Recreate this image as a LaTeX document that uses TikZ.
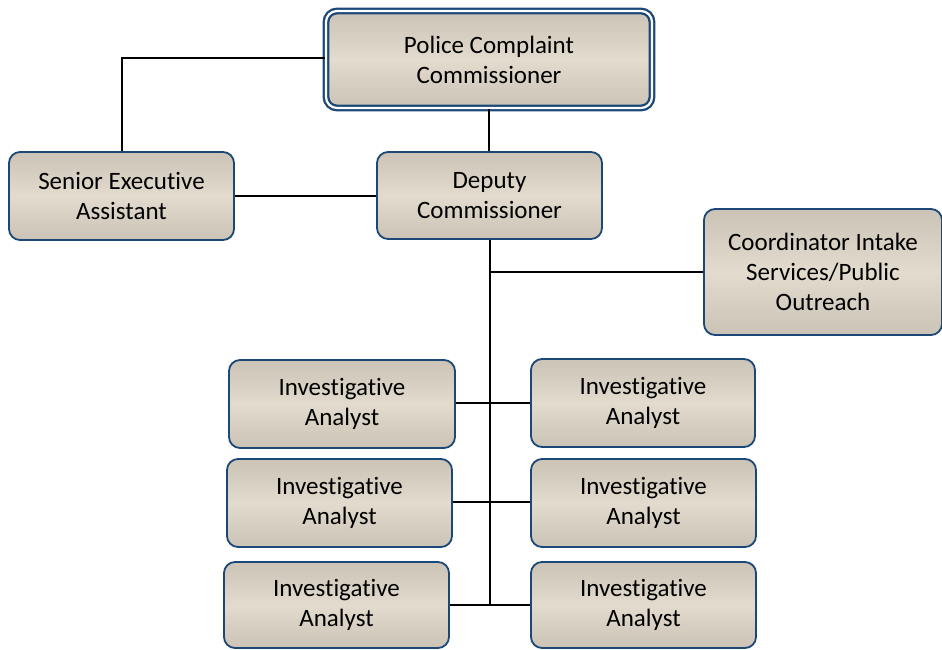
\documentclass[tikz,border=0pt]{standalone}
\usepackage{fontspec}
\setmainfont{Carlito}[RawFeature=-liga]
\definecolor{bordblue}{HTML}{1B4877}
\definecolor{tanA}{HTML}{CBC3B5}
\definecolor{tanB}{HTML}{E2DBCE}
\begin{document}
\begin{tikzpicture}[x=1pt,y=-1pt,
  box/.style={draw=bordblue, line width=1.8pt, rounded corners=11pt,
    top color=tanA, bottom color=tanA, middle color=tanB,
    align=center, font=\fontsize{25}{30}\selectfont, inner sep=0pt},
  conn/.style={draw=black, line width=1.5pt}]
\useasboundingbox (0,0) rectangle (942,650);
\node[box, double=white, double distance=2.2pt, line width=2.3pt, minimum width=326pt, minimum height=97pt] (top) at (489,59.5) {Police Complaint\\Commissioner};
\node[box, minimum width=225pt, minimum height=88pt] (sea) at (121.5,196) {Senior Executive\\Assistant};
\node[box, minimum width=225pt, minimum height=87pt] (dep) at (489.5,195.5) {Deputy\\Commissioner};
\node[box, minimum width=238pt, minimum height=126pt] (coord) at (823,272) {Coordinator Intake\\Services/Public\\Outreach};
\node[box, minimum width=226pt, minimum height=88pt] (l1) at (342,404) {Investigative\\Analyst};
\node[box, minimum width=224pt, minimum height=88pt] (r1) at (643,403) {Investigative\\Analyst};
\node[box, minimum width=225pt, minimum height=88pt] (l2) at (339.5,503) {Investigative\\Analyst};
\node[box, minimum width=225pt, minimum height=88pt] (r2) at (643.5,503) {Investigative\\Analyst};
\node[box, minimum width=225pt, minimum height=86pt] (l3) at (336.5,605) {Investigative\\Analyst};
\node[box, minimum width=225pt, minimum height=86pt] (r3) at (643.5,605) {Investigative\\Analyst};
\coordinate (trunkend) at (490,605);
\draw[conn] (top.west |- 0,58) -- (122,58) -- (sea.north -| 122,0);
\draw[conn] (top.south -| 489,0) -- (dep.north -| 489,0);
\draw[conn] (sea.east) -- (dep.west |- sea.east);
\draw[conn] (dep.south -| 490,0) -- (trunkend);
\draw[conn] (490,272) -- (coord.west);
\draw[conn] (l1.east |- 0,403) -- (r1.west |- 0,403);
\draw[conn] (l2.east |- 0,502) -- (r2.west |- 0,502);
\draw[conn] (l3.east |- 0,605) -- (r3.west |- 0,605);
\end{tikzpicture}
\end{document}
